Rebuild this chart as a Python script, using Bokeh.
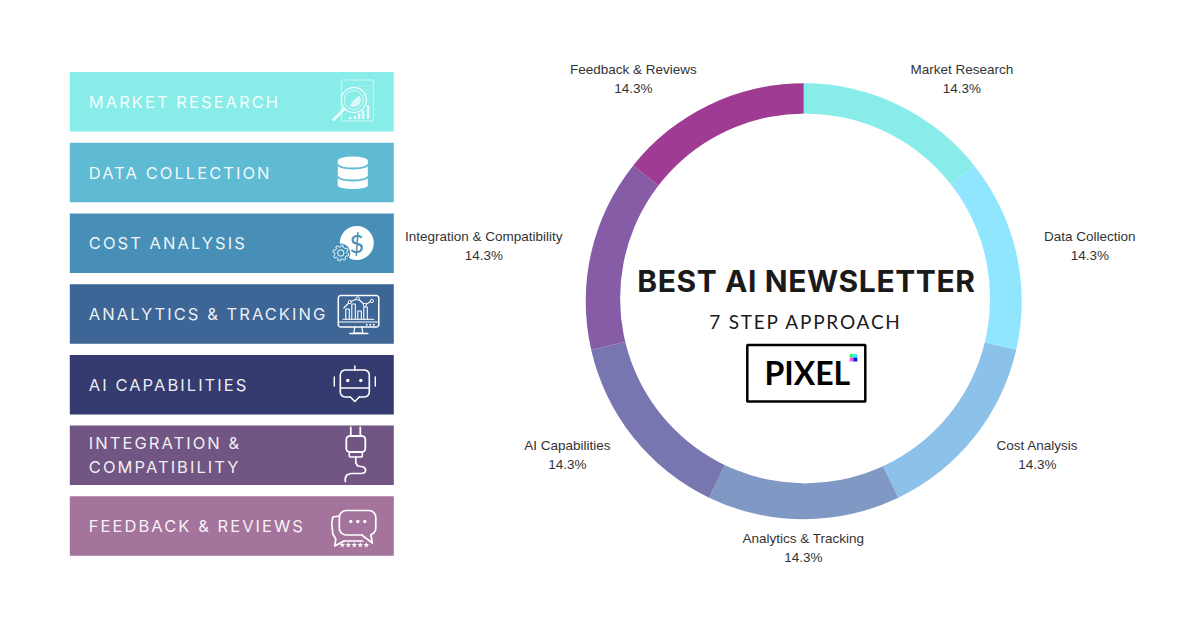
import numpy as np
from bokeh.core.properties import value
from bokeh.embed import file_html
from bokeh.events import DocumentReady
from bokeh.io import curdoc
from bokeh.models import ColumnDataSource, CustomJS, Range1d
from bokeh.plotting import figure
from bokeh.resources import INLINE

steps = ["Market Research", "Data Collection", "Cost Analysis", "Analytics & Tracking",
         "AI Capabilities", "Integration & Compatibility", "Feedback & Reviews"]
shares = [14.3, 14.3, 14.3, 14.3, 14.3, 14.3, 14.3]
share_labels = ["14.3%"] * 7
slice_colors = ["#88ECE8", "#90E6FF", "#8CC1E9", "#7F98C4", "#7876B0", "#855CA5", "#9F3B92"]
bar_colors = ["#88ECE8", "#5FBBD3", "#478FB7", "#3D6595", "#353B6F", "#715684", "#A4749C"]
bar_lines = [["MARKET RESEARCH"], ["DATA COLLECTION"], ["COST ANALYSIS"], ["ANALYTICS & TRACKING"],
             ["AI CAPABILITIES"], ["INTEGRATION &", "COMPATIBILITY"], ["FEEDBACK & REVIEWS"]]
label_x = [962, 1090, 1037.5, 803.5, 567.5, 484, 633.5]
label_y = [69, 236, 445, 538, 445, 236, 69]

W = "#FFFFFF"
p = figure(width=1184, height=614, output_backend="svg", toolbar_location=None,
           x_range=Range1d(0.7, 1184.7), y_range=Range1d(614.5, 0.5), min_border=0,
           background_fill_color="#FFFFFF", border_fill_color="#FFFFFF", outline_line_color=None)
p.axis.visible = False
p.grid.visible = False

# pie with an off-centre white hole, as in the reference
fractions = np.cumsum([0] + shares) / sum(shares) * 2 * np.pi
pie = ColumnDataSource(dict(start=np.pi / 2 - fractions[1:], end=np.pi / 2 - fractions[:-1], color=slice_colors))
p.wedge(x=803.9, y=301.3, radius=218, start_angle="start", end_angle="end", fill_color="color",
        line_color=None, source=pie)
p.circle(x=[805.3], y=[298.4], radius=185, fill_color=W, line_color=None)

# left panels
tops = [72 + 70.72 * i for i in range(7)]
p.quad(left=70, right=394, top=tops, bottom=[t + 59.5 for t in tops], fill_color=bar_colors, line_color=None)
for i, lines in enumerate(bar_lines):
    ys = [tops[i] + 30] if len(lines) == 1 else [tops[i] + 17.5, tops[i] + 41.5]
    p.text(x=[89] * len(lines), y=ys, text=lines, text_font=value("Inter"), text_font_size="16.5px",
           text_color=W, text_alpha=0.93, text_baseline="middle", text_align="left")

# slice labels
p.text(x=label_x, y=label_y, text=steps, text_font=value("Liberation Sans"), text_font_size="13.5px",
       text_color="#333333", text_align="center", text_baseline="middle")
p.text(x=label_x, y=[y + 19 for y in label_y], text=share_labels, text_font=value("Liberation Sans"),
       text_font_size="13.5px", text_color="#333333", text_align="center", text_baseline="middle")

# centre
p.text(x=[801.2], y=[280.5], text=["BEST AI NEWSLETTER"], text_font=value("Inter"), text_font_style="bold",
       text_font_size="30px", text_color="#1A1A1A", text_align="center", text_baseline="middle")
p.text(x=[792.7], y=[321.5], text=["7 STEP APPROACH"], text_font=value("Lato"), text_font_size="19px",
       text_color="#1A1A1A", text_align="center", text_baseline="middle")
p.quad(left=[747.5], right=[865.5], top=[345], bottom=[401.5], fill_color=None, line_color="#000000", line_width=2.5)
p.text(x=[807.5], y=[372], text=["PIXEL"], text_font=value("Lato"), text_font_style="bold",
       text_font_size="32px", text_color="#000000", text_align="center", text_baseline="middle")
p.quad(left=[850, 853.5, 850, 853.5], right=[853.5, 857.5, 853.5, 857.5], top=[354, 354, 357.5, 357.5],
       bottom=[357.5, 357.5, 361.5, 361.5], fill_color=["#22FF66", "#33EEFF", "#FF55EE", "#0022EE"], line_color=None)


def rrect(x0, y0, x1, y1, r):
    pts = []
    for cx, cy, a in [(x1 - r, y0 + r, -90), (x1 - r, y1 - r, 0), (x0 + r, y1 - r, 90), (x0 + r, y0 + r, 180)]:
        t = np.radians(np.linspace(a, a + 90, 7))
        pts += list(zip(cx + r * np.cos(t), cy + r * np.sin(t)))
    pts.append(pts[0])
    return [q[0] for q in pts], [q[1] for q in pts]


def stroke(xs, ys, w=1.6, a=1.0):
    p.line(xs, ys, line_color=W, line_width=w, line_alpha=a, line_join="round", line_cap="round")


# icon 1: report and magnifier
a = 0.6
stroke(*rrect(341.5, 80, 373.5, 121, 0.5), 1, a)
for y, x1 in [(86, 370), (90, 370), (94, 370), (98, 370), (102, 370)]:
    stroke([358, x1], [y, y], 0.8, 0.4)
for bx, bh in [(349, 2), (354, 3), (358, 6), (362, 9), (367, 14)]:
    p.quad(left=bx, right=bx + 2.6, top=119 - bh, bottom=119, fill_color=W, fill_alpha=0.75, line_color=None)
p.circle(x=[354], y=[100], radius=12.5, fill_color="#88ECE8", line_color=W, line_width=1.3, line_alpha=0.85)
p.circle(x=[354], y=[100], radius=9.5, fill_color=None, line_color=W, line_width=1, line_alpha=0.7)
p.wedge(x=[354], y=[100], radius=7, start_angle=[-2.2], end_angle=[0.7], fill_color=W, fill_alpha=0.7, line_color=None)
stroke([344.5, 334], [109, 119.5], 3, 0.8)

# icon 2: database
p.quad(left=[338], right=[368], top=[160.5], bottom=[185.5], fill_color=W, line_color=None)
p.ellipse(x=[353, 353], y=[160.5, 185.5], width=30, height=[8, 7], fill_color=W, line_color=None)
u = np.linspace(-1, 1, 25)
for y0 in [164.5, 176.5]:
    p.line(353 + 15 * u, y0 + 4 * np.sqrt(1 - u ** 2), line_color="#5FBBD3", line_width=1.8)

# icon 3: dollar and gear
p.circle(x=[357], y=[243], radius=17, fill_color=W, line_color=None)
p.text(x=[357], y=[243], text=["$"], text_font=value("Lato"), text_font_size="25px", text_color="#478FB7",
       text_align="center", text_baseline="middle")
p.circle(x=[341], y=[253], radius=9.5, fill_color="#478FB7", line_color=None)
t = np.linspace(0, 2 * np.pi, 65)
rg = 7 + 0.9 * np.sign(np.sin(8 * t))
stroke(341 + rg * np.cos(t), 253 + rg * np.sin(t), 1)
p.circle(x=[341], y=[253], radius=3.2, fill_color=None, line_color=W, line_width=1)

# icon 4: monitor
stroke(*rrect(338.5, 295.5, 379, 327, 2.5), 1.5)
stroke([339, 379], [322, 322], 1.2)
stroke([355, 354, 363, 362], [327, 333, 333, 327], 1.2)
stroke([350, 368], [333.5, 333.5], 1.5)
for bx, bh in [(346, 10), (352, 15), (358, 8), (364, 12)]:
    stroke([bx, bx, bx + 3.5, bx + 3.5], [319, 319 - bh, 319 - bh, 319], 1.1)
stroke([344, 350, 358, 365, 372], [308, 302, 298.5, 305, 301], 1.1)
p.circle(x=[350, 358, 365, 372], y=[302, 298.5, 305, 301], radius=1.6, fill_color="#3D6595", line_color=W, line_width=1)
stroke([343, 374], [319.3, 319.3], 1)
p.scatter(x=[367, 370.5, 374], y=[324.8] * 3, size=2, fill_color=W, line_color=None)

# icon 5: robot
rx, ry = rrect(340.5, 370, 369.5, 397, 5)
stroke(rx, ry, 1.6)
p.quad(left=[351], right=[359], top=[396], bottom=[398], fill_color="#353B6F", line_color=None)
stroke([350.5, 355, 359.5], [397, 401.5, 397], 1.6)
stroke([341, 369], [388, 388], 1.4)
stroke([355, 355], [366, 370], 1.5)
stroke([334.5, 334.5], [377, 386], 1.4)
stroke([375.5, 375.5], [377, 386], 1.4)
p.circle(x=[348, 361], y=[380.5, 380.5], radius=1.7, fill_color=W, line_color=None)

# icon 6: plug
stroke([351, 351], [427.5, 436], 1.8)
stroke([360.5, 360.5], [427.5, 436], 1.8)
stroke(*rrect(346.5, 436, 365.5, 452, 3.5), 1.8)
stroke(*rrect(349.5, 452, 362.5, 457, 1), 1.6)
stroke([356, 356, 358, 364, 366, 365, 362, 351, 347, 345.5, 345.5],
       [457, 463, 466, 467, 470, 472.5, 473.5, 473.5, 475, 478, 481.5], 1.7)

# icon 7: chat
stroke(*rrect(339.5, 510.5, 376, 535, 7), 1.7)
p.quad(left=[363], right=[371], top=[533], bottom=[536], fill_color="#A4749C", line_color=None)
stroke([362, 372.5, 371], [535, 543, 534.5], 1.7)
stroke([339.5, 333, 332, 333, 336, 335, 344, 363], [516, 517, 523, 534, 539, 546, 541, 541], 1.7)
p.circle(x=[351, 358, 365], y=[521.5] * 3, radius=1.7, fill_color=W, line_color=None)
p.scatter(x=[342.5, 348.5, 354.5, 360.5, 366.5], y=[545] * 5, marker="star", size=6, fill_color=W, line_color=None)

# Bokeh has no letter-spacing property: apply it to the real SVG text nodes.
spacing = CustomJS(code="""
const rules = [[/^(MARKET RESEARCH|DATA COLLECTION|COST ANALYSIS|ANALYTICS & TRACKING|AI CAPABILITIES|INTEGRATION &|COMPATIBILITY|FEEDBACK & REVIEWS)$/, '2.05px'],
               [/^BEST AI NEWSLETTER$/, '0.6px'], [/^7 STEP APPROACH$/, '1.8px']];
function walk(root) {
  for (const el of root.querySelectorAll('*')) {
    if (el.shadowRoot) walk(el.shadowRoot);
    if (el.tagName && el.tagName.toLowerCase() === 'text')
      for (const [re, s] of rules) if (re.test(el.textContent)) el.setAttribute('letter-spacing', s);
  }
}
let n = 0;
const h = setInterval(() => { walk(document); if (++n > 20) clearInterval(h); }, 50);
""")
curdoc().add_root(p)
curdoc().js_on_event(DocumentReady, spacing)

open("out.html", "w").write(file_html(p, INLINE))
